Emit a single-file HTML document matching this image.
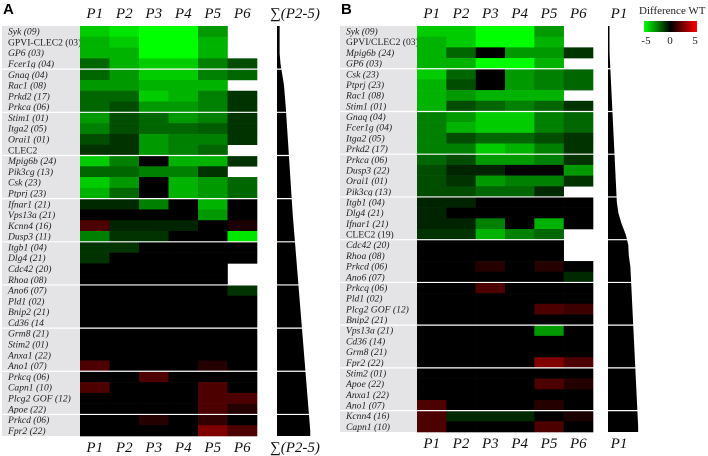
<!DOCTYPE html>
<html><head><meta charset="utf-8">
<style>
body{margin:0;background:#fff;width:708px;height:456px;overflow:hidden;font-family:"Liberation Serif",serif}
svg{display:block}
.lab{font-family:"Liberation Serif",serif;font-size:9.6px;fill:#222}
.hd{font-family:"Liberation Serif",serif;font-size:15px;font-style:italic;fill:#111}
</style></head>
<body>
<svg id="chart" width="708" height="456"></svg>
<script>
const genesA=["Syk (09)","GPVI-CLEC2 (03)","GP6 (03)","Fcer1g (04)","Gnaq (04)","Rac1 (08)","Prkd2 (17)","Prkca (06)","Stim1 (01)","Itga2 (05)","Orai1 (01)","CLEC2","Mpig6b (24)","Pik3cg (13)","Csk (23)","Ptprj (23)","Ifnar1 (21)","Vps13a (21)","Kcnn4 (16)","Dusp3 (11)","Itgb1 (04)","Dlg4 (21)","Cdc42 (20)","Rhoa (08)","Ano6 (07)","Pld1 (02)","Bnip2 (21)","Cd36 (14","Grm8 (21)","Stim2 (01)","Anxa1 (22)","Ano1 (07)","Prkcq (06)","Capn1 (10)","Plcg2 GOF (12)","Apoe (22)","Prkcd (06)","Fpr2 (22)"];
const valuesA=[
[-4,-4.5,-5,-5,-3,null],[-3.5,-4,-5,-5,-3.5,null],[-3.5,-3.5,-5,-5,-3.5,null],[-2,-3.5,-4,-4,-2.5,-1.5],
[-2,-3,-4,-4,-2.5,-2],[-3,-3,-3.5,-3.5,-3.5,null],[-2,-2,-4,-3.5,-2.5,-1],[-2,-1.5,-3,-3,-2.5,-1],
[-3,-1.5,-2,-3,-2.5,-1],[-2.5,-1.5,-2,-2,-1.8,-1],[-1.5,-1,-3,-2.5,-2.5,-1],[-1,-1,-3,-2.5,-2,null],
[-4,-2.5,0,-3.5,-3.5,-1],[-2,-2,-2.5,-2.5,-1,null],[-4,-3,0,-3.5,-3,-2],[-3.5,-2,0,-3.5,-3,-2],
[-0.8,-0.8,-2.5,0,-3.5,0],[0,0,0,0,-3,0],[1.5,-0.7,-0.7,-0.7,0,0.5],[-2.5,-1,-1,0,0,-4.5],
[-1,-1,0,0,0,0],[-1,0,0,0,0,0],[0,0,0,0,0,null],[0,0,0,0,0,null],
[0,0,0,0,0,-1],[0,0,0,0,0,0],[0,0,0,0,0,0],[0,0,0,0,0,0],
[0,0,0,0,0,0],[0,0,0,0,0,0],[0,0,0,0,0,0],[1.5,0,0,0,0.7,0],
[0,0,1.5,0,0,0],[1.5,0,0,0,1.5,0],[0,0,0,0,1.5,1.5],[0,0,0,0,1.5,0.7],
[0,0,0.7,0,1,0],[0,0,0,0,2.5,1.5]];
const sumA=[-16.5,-16.5,-16.5,-16,-15,-14,-13.5,-13,-12.6,-12.2,-11.8,-11.4,-11,-10.6,-10.2,-9.8,-9.4,-9,-8.5,-8,-7.5,-7,-6.5,-6,-5.5,-5,-4.5,-4,-3.5,-3,-2.5,-2,-1.5,-1,-0.5,0,0.5,1];
const genesB=["Syk (09)","GPVI/CLEC2 (03)","Mpig6b (24)","GP6 (03)","Csk (23)","Ptprj (23)","Rac1 (08)","Stim1 (01)","Gnaq (04)","Fcer1g (04)","Itga2 (05)","Prkd2 (17)","Prkca (06)","Dusp3 (22)","Orai1 (01)","Pik3cg (13)","Itgb1 (04)","Dlg4 (21)","Ifnar1 (21)","CLEC2 (19)","Cdc42 (20)","Rhoa (08)","Prkcd (06)","Ano6 (07)","Prkcq (06)","Pld1 (02)","Plcg2 GOF (12)","Bnip2 (21)","Vps13a (21)","Cd36 (14)","Grm8 (21)","Fpr2 (22)","Stim2 (01)","Apoe (22)","Anxa1 (22)","Ano1 (07)","Kcnn4 (16)","Capn1 (10)"];
const valuesB=[
[-4,-4,-5,-5,-3,null],[-3.5,-4,-5,-5,-3.5,null],[-3.5,-2,0,-3,-3,-1],[-3.5,-3.5,-5,-5,-3.5,null],
[-4,-2,0,-3,-2.5,-2],[-3.5,-1.5,0,-3,-2.5,-2],[-3.5,-3,-3.5,-3.5,-3.5,null],[-3.5,-1.5,-2,-2.5,-2,-1],
[-2.5,-3,-4,-4,-2.5,-2],[-2.5,-3.5,-4,-4,-2.5,-2],[-2.5,-1.5,-2,-2,-1.5,-1],[-2.5,-2.5,-4,-3.5,-2.5,-1],
[-2,-1.5,-3,-3,-2.5,-1],[-1.5,-0.7,-0.7,0,0,-3],[-1.5,-1,-3,-2.5,-2.5,-1],[-1.5,-1.5,-2,-2,-0.8,null],
[-0.7,-0.7,0,0,0,0],[-0.7,0,0,0,0,0],[-0.7,-0.7,-2.5,0,-3.5,0],[-1,-1,-3.5,-2.5,-2,null],
[0,0,0,0,0,null],[0,0,0,0,0,null],[0,0,0.7,0,0.7,0],[0,0,0,0,0,-0.8],
[0,0,1.5,0,0,0],[0,0,0,0,0,0],[0,0,0,0,1.5,1.2],[0,0,0,0,0,0],
[0,0,0,0,-3,0],[0,0,0,0,0,0],[0,0,0,0,0,0],[0,0,0,0,2.5,1.5],
[0,0,0,0,0,0],[0,0,0,0,1.5,0.7],[0,0,0,0,0,0],[1.5,0,0,0,0.7,0],
[1.5,-0.8,-0.8,-0.8,0,0.5],[1.5,0,0,0,1.5,0]];
const sumB=[-4,-4,-3.9,-3.8,-3.7,-3.6,-3.5,-3.4,-3.3,-3.2,-3.1,-3,-2.9,-2.8,-2.7,-2.6,-2.5,-2.2,-1.6,-0.8,-0.3,-0.2,0.1,0.2,0.3,0.4,0.5,0.6,0.7,0.8,0.9,1,1.1,1.2,1.3,1.4,1.5,1.6];
const colLabels=["P1","P2","P3","P4","P5","P6"];
const NS="http://www.w3.org/2000/svg";
const svg=document.getElementById('chart');
function mk(t,a,p){const e=document.createElementNS(NS,t);for(const k in a)e.setAttribute(k,a[k]);(p||svg).appendChild(e);return e;}
function color(v){const f=Math.min(1,Math.abs(v)/5);const c=Math.round(255*f);return v<0?`rgb(0,${c},0)`:`rgb(${c},0,0)`;}
function panel(cfg){
  const g=mk('g',{});
  
  
  const n=cfg.genes.length, rh=(cfg.bottom-cfg.top)/n, cw=(cfg.hx1-cfg.hx0)/6;
  const yS=i=>cfg.top+i*rh, xS=j=>cfg.hx0+j*cw;
  const bg=mk('rect',{x:cfg.lx,y:cfg.top,width:cfg.hx0-cfg.lx,height:cfg.bottom-cfg.top,fill:'#e4e4e7'},g);
  
  
  cfg.genes.forEach((gn,i)=>{
    const t=mk('text',{x:cfg.lx+6,y:yS(i)+rh*0.8,class:'lab','font-style':gn.startsWith('GPVI')||gn.startsWith('CLEC2')?'normal':'italic'},g);
    t.textContent=gn;
    
    
    cfg.vals[i].forEach((v,j)=>{
      if(v===null)return;
      const r=mk('rect',{x:xS(j),y:yS(i),width:cw+0.3,height:rh+0.3,fill:color(v)},g);
      
      
    });
  });
  colLabels.forEach((c,j)=>{
    [cfg.top-8,cfg.bottom+16].forEach(yy=>{
      const t=mk('text',{x:xS(j)+cw/2,y:yy,class:'hd','text-anchor':'middle'},g);
      t.textContent=c;
      
      
    });
  });
  const wS=s=>Math.max(1.5,(s-cfg.smin)*cfg.sk);
  let pts=[[cfg.sx,cfg.top]];
  cfg.sums.forEach((s,i)=>pts.push([cfg.sx+wS(s),yS(i)+rh/2]));
  pts.push([cfg.sx+wS(cfg.sums[n-1]),cfg.bottom]);pts.push([cfg.sx,cfg.bottom]);
  pts.splice(1,0,[cfg.sx+wS(cfg.sums[0]),cfg.top]);
  const p=mk('polygon',{points:pts.map(q=>q.join(',')).join(' '),fill:'#000'},g);
  
  
  [cfg.top-8,cfg.bottom+16].forEach((yy,k)=>{
    const t=mk('text',{x:cfg.sx+cfg.stx,y:yy,class:'hd','font-style':(k===0&&cfg.sumItalicTop)||cfg.sumItalic?'italic':'normal','text-anchor':'middle'},g);
    t.textContent=cfg.sumLabel;
    
    
  });
  for(let i=4;i<n;i+=4){
    const l=mk('line',{x1:cfg.lx,x2:cfg.sx+40,y1:yS(i),y2:yS(i),stroke:'#fff','stroke-width':1.2},g);
    
    
  }
  const L=mk('text',{x:cfg.lx+1,y:14,'font-family':'Liberation Sans, sans-serif','font-weight':'bold','font-size':'15px',fill:'#000'},g);
  L.textContent=cfg.letter;
  
  
}
panel({name:'panel-a',letter:'A',genes:genesA,vals:valuesA,sums:sumA,lx:2,hx0:80,hx1:257,top:26,bottom:436,sx:277,smin:-18,sk:1.75,stx:18,sumLabel:'∑(P2-5)',sumItalicTop:true});
panel({name:'panel-b',letter:'B',genes:genesB,vals:valuesB,sums:sumB,lx:340,hx0:417,hx1:593,top:26,bottom:432,sx:608,smin:-4.2,sk:5.2,stx:11,sumLabel:'P1',sumItalic:true});
const lg=mk('g',{});


const defs=mk('defs',{},lg);
const gr=mk('linearGradient',{id:'gd',x1:0,x2:1,y1:0,y2:0},defs);
mk('stop',{offset:'0','stop-color':'#00ff00'},gr);mk('stop',{offset:'0.5','stop-color':'#000'},gr);mk('stop',{offset:'1','stop-color':'#ff0000'},gr);
mk('rect',{x:644,y:21,width:53,height:11,fill:'url(#gd)'},lg);
const lt=mk('text',{x:639,y:14,'font-size':'11px',fill:'#222'},lg);lt.textContent='Difference WT';
[['-5',646],['0',670],['5',695]].forEach(([s,x])=>{const t=mk('text',{x:x,y:44,'font-size':'11px','text-anchor':'middle',fill:'#222'},lg);t.textContent=s;});
</script>
</body></html>
